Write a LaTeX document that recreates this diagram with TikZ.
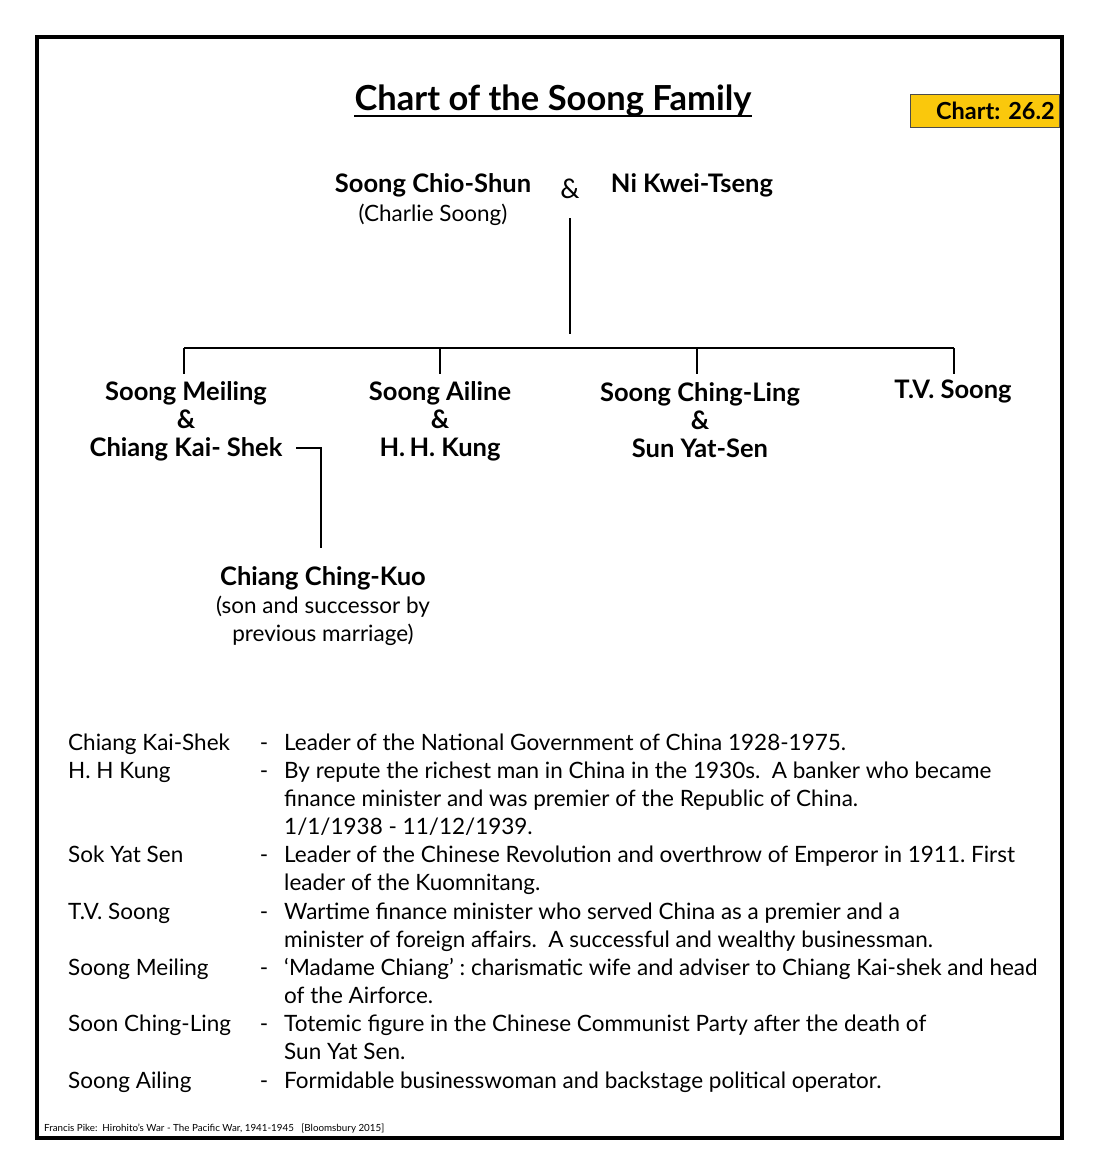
\documentclass[tikz,border=0pt]{standalone}
\usepackage{fontspec}
\setmainfont{Lato}
\definecolor{badgeyellow}{RGB}{250,200,12}
\newcommand\plainfont{\fontsize{22.5}{28}\selectfont\mdseries}

\begin{document}
\frenchspacing
\begin{tikzpicture}[x=1pt,y=-1pt,
  every node/.style={inner sep=0pt,font=\fontsize{22.5}{28}\selectfont},
  person/.style={align=center,font=\fontsize{25.5}{28}\selectfont\bfseries},
  link/.style={line width=2.8pt},
  badgebox/.style={draw=black!70,line width=0.6pt,fill=badgeyellow,
    minimum height=33pt,text width=139pt,inner xsep=5pt,align=right,
    font=\fontsize{23.5}{24}\selectfont\bfseries}]
  \useasboundingbox (0,0) rectangle (1100,1176);
  % title and badge
  \node[font=\fontsize{34.5}{36}\selectfont\bfseries] (title) at (553,101) {Chart of the Soong Family};
  \draw[line width=1.6pt] ([yshift=-5pt]title.base west) -- ([yshift=-5pt]title.base east);
  \node[badgebox,anchor=east] (badge) at (1060,110.5) {Chart: 26.2};
  \draw[line width=4pt] (37,37) rectangle (1062,1138);
  % parents
  \node[person] (chio) at (433,200) {Soong Chio-Shun\\[1pt]{\plainfont (Charlie Soong)}};
  \node[font=\fontsize{27}{28}\selectfont] (amp) at (570,189) {\&};
  \node[person] (ni) at (692,185) {Ni Kwei-Tseng};
  \coordinate (bar) at (570,348);
  \draw[link] (amp.south |- 0,218) -- (amp.south |- 0,334);
  % children
  \node[person] (meiling) at (186,421) {Soong Meiling\\\&\\Chiang Kai- Shek};
  \node[person] (ailing) at (440,421) {Soong Ailine\\\&\\H.\,H. Kung};
  \node[person] (chingling) at (700,420) {Soong Ching-Ling\\\&\\Sun Yat-Sen};
  \node[person] (tv) at (953,391) {T.V. Soong};
  \draw[link] (bar -| 184,0) -- (bar -| 954,0);
  \foreach \x in {184,440,697,954}
    \draw[link] (\x,348) -- (\x,374);
  % step son
  \node[person] (kuo) at (323,606) {Chiang Ching-Kuo\\{\plainfont (son and successor by}\\{\plainfont previous marriage)}};
  \coordinate (cks) at (296,448);
  \coordinate (kuotop) at (321,548);
  \draw[link] (cks) -| (kuotop);
  % notes
  \foreach \who/\dash/\what [count=\i from 0] in {
    {Chiang Kai-Shek}/{-}/{Leader of the National Government of China 1928-1975.},
    {H. H Kung}/{-}/{By repute the richest man in China in the 1930s.\ \ A banker who became},
    {}/{}/{finance minister and was premier of the Republic of China.},
    {}/{}/{1/1/1938 - 11/12/1939.},
    {Sok Yat Sen}/{-}/{Leader of the Chinese Revolution and overthrow of Emperor in 1911. First},
    {}/{}/{leader of the Kuomnitang.},
    {T.V. Soong}/{-}/{Wartime finance minister who served China as a premier and a},
    {}/{}/{minister of foreign affairs.\ \ A successful and wealthy businessman.},
    {Soong Meiling}/{-}/{‘Madame Chiang’ : charismatic wife and adviser to Chiang Kai-shek and head},
    {}/{}/{of the Airforce.},
    {Soon Ching-Ling}/{-}/{Totemic figure in the Chinese Communist Party after the death of},
    {}/{}/{Sun Yat Sen.},
    {Soong Ailing}/{-}/{Formidable businesswoman and backstage political operator.}} {
    \node[anchor=base west] (who\i) at (68,{750+28.17*\i}) {\who};
    \node[anchor=base] (dash\i) at (264,{750+28.17*\i}) {\dash};
    \node[anchor=base west] (what\i) at (284,{750+28.17*\i}) {\what};
  }
  % source
  \node[anchor=base west,font=\fontsize{9.8}{10}\selectfont] (source) at (44,1131)
    {Francis Pike:\ \ Hirohito’s War - The Pacific War, 1941-1945\ \ \ [Bloomsbury 2015]};
\end{tikzpicture}
\end{document}
